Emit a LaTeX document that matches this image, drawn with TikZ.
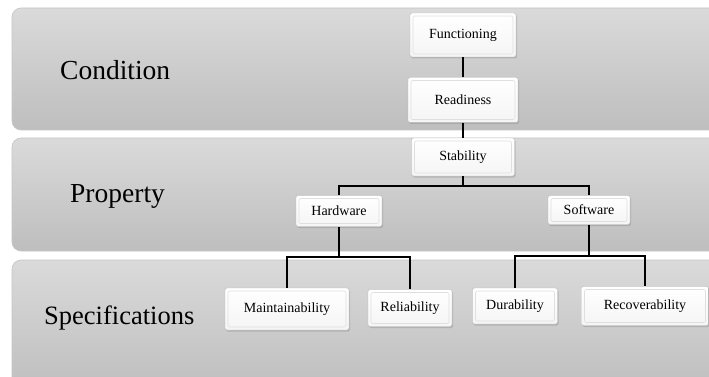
\documentclass[tikz,border=0pt]{standalone}
\usepackage{fontspec}
\setmainfont{Liberation Serif}
\usetikzlibrary{shadows}
\definecolor{bandtop}{RGB}{218,218,218}
\definecolor{bandbot}{RGB}{190,190,190}
\begin{document}
\begin{tikzpicture}[x=1pt,y=-1pt,
	band/.style={rounded corners=9pt,top color=bandtop,bottom color=bandbot,draw=gray!45,line width=0.6pt},
	lvl/.style={font=\fontsize{27.5}{32}\selectfont,anchor=west,inner sep=0pt},
	box/.style={draw=gray!55,rounded corners=2pt,top color=white,bottom color=gray!8,inner sep=0pt,
		drop shadow={shadow xshift=1pt,shadow yshift=-1.5pt,opacity=0.35},
		font=\fontsize{14}{16}\selectfont,
		path picture={\draw[gray!25,line width=0.6pt] ([shift={(3pt,-3pt)}]path picture bounding box.north west) rectangle ([shift={(-3pt,3pt)}]path picture bounding box.south east);}},
	link/.style={line width=1.4pt}]
\useasboundingbox (0,0) rectangle (709,377);
\clip (0,0) rectangle (709,377);
\fill[white] (0,0) rectangle (709,377);
\path[band] (12,8) rectangle (722,130);
\path[band] (12,138) rectangle (722,251);
\path[band] (12,260) rectangle (722,392);
\node[lvl] (cond) at (60,70) {Condition};
\node[lvl] (prop) at (70,196) {Property};
\node[lvl,font=\fontsize{26.5}{30}\selectfont] (spec) at (44,318) {Specifications};
\node[box,minimum width=106pt,minimum height=44pt] (fun) at (463,35) {Functioning};
\node[box,minimum width=110pt,minimum height=45pt] (rdy) at (463,100) {Readiness};
\node[box,minimum width=103pt,minimum height=38pt] (stab) at (463,157) {Stability};
\node[box,minimum width=86pt,minimum height=31pt] (hw) at (339,211) {Hardware};
\node[box,minimum width=82pt,minimum height=29pt] (sw) at (589,210) {Software};
\node[box,minimum width=124pt,minimum height=42pt] (mnt) at (287,309) {Maintainability};
\node[box,minimum width=84pt,minimum height=37pt] (rel) at (410,308) {Reliability};
\node[box,minimum width=85pt,minimum height=36pt] (dur) at (515,306) {Durability};
\node[box,minimum width=127pt,minimum height=39pt] (rec) at (645,306) {Recoverability};
\coordinate (j1) at (463,186);
\coordinate (j2) at (339,257);
\coordinate (j3) at (589,256);
\draw[link] (fun) -- (rdy);
\draw[link] (rdy) -- (stab);
\draw[link] (stab) -- (j1) -| (hw);
\draw[link] (j1) -| (sw);
\draw[link] (hw) -- (j2) -| (mnt);
\draw[link] (j2) -| (rel);
\draw[link] (sw) -- (j3) -| (dur);
\draw[link] (j3) -| (rec);
\end{tikzpicture}
\end{document}
